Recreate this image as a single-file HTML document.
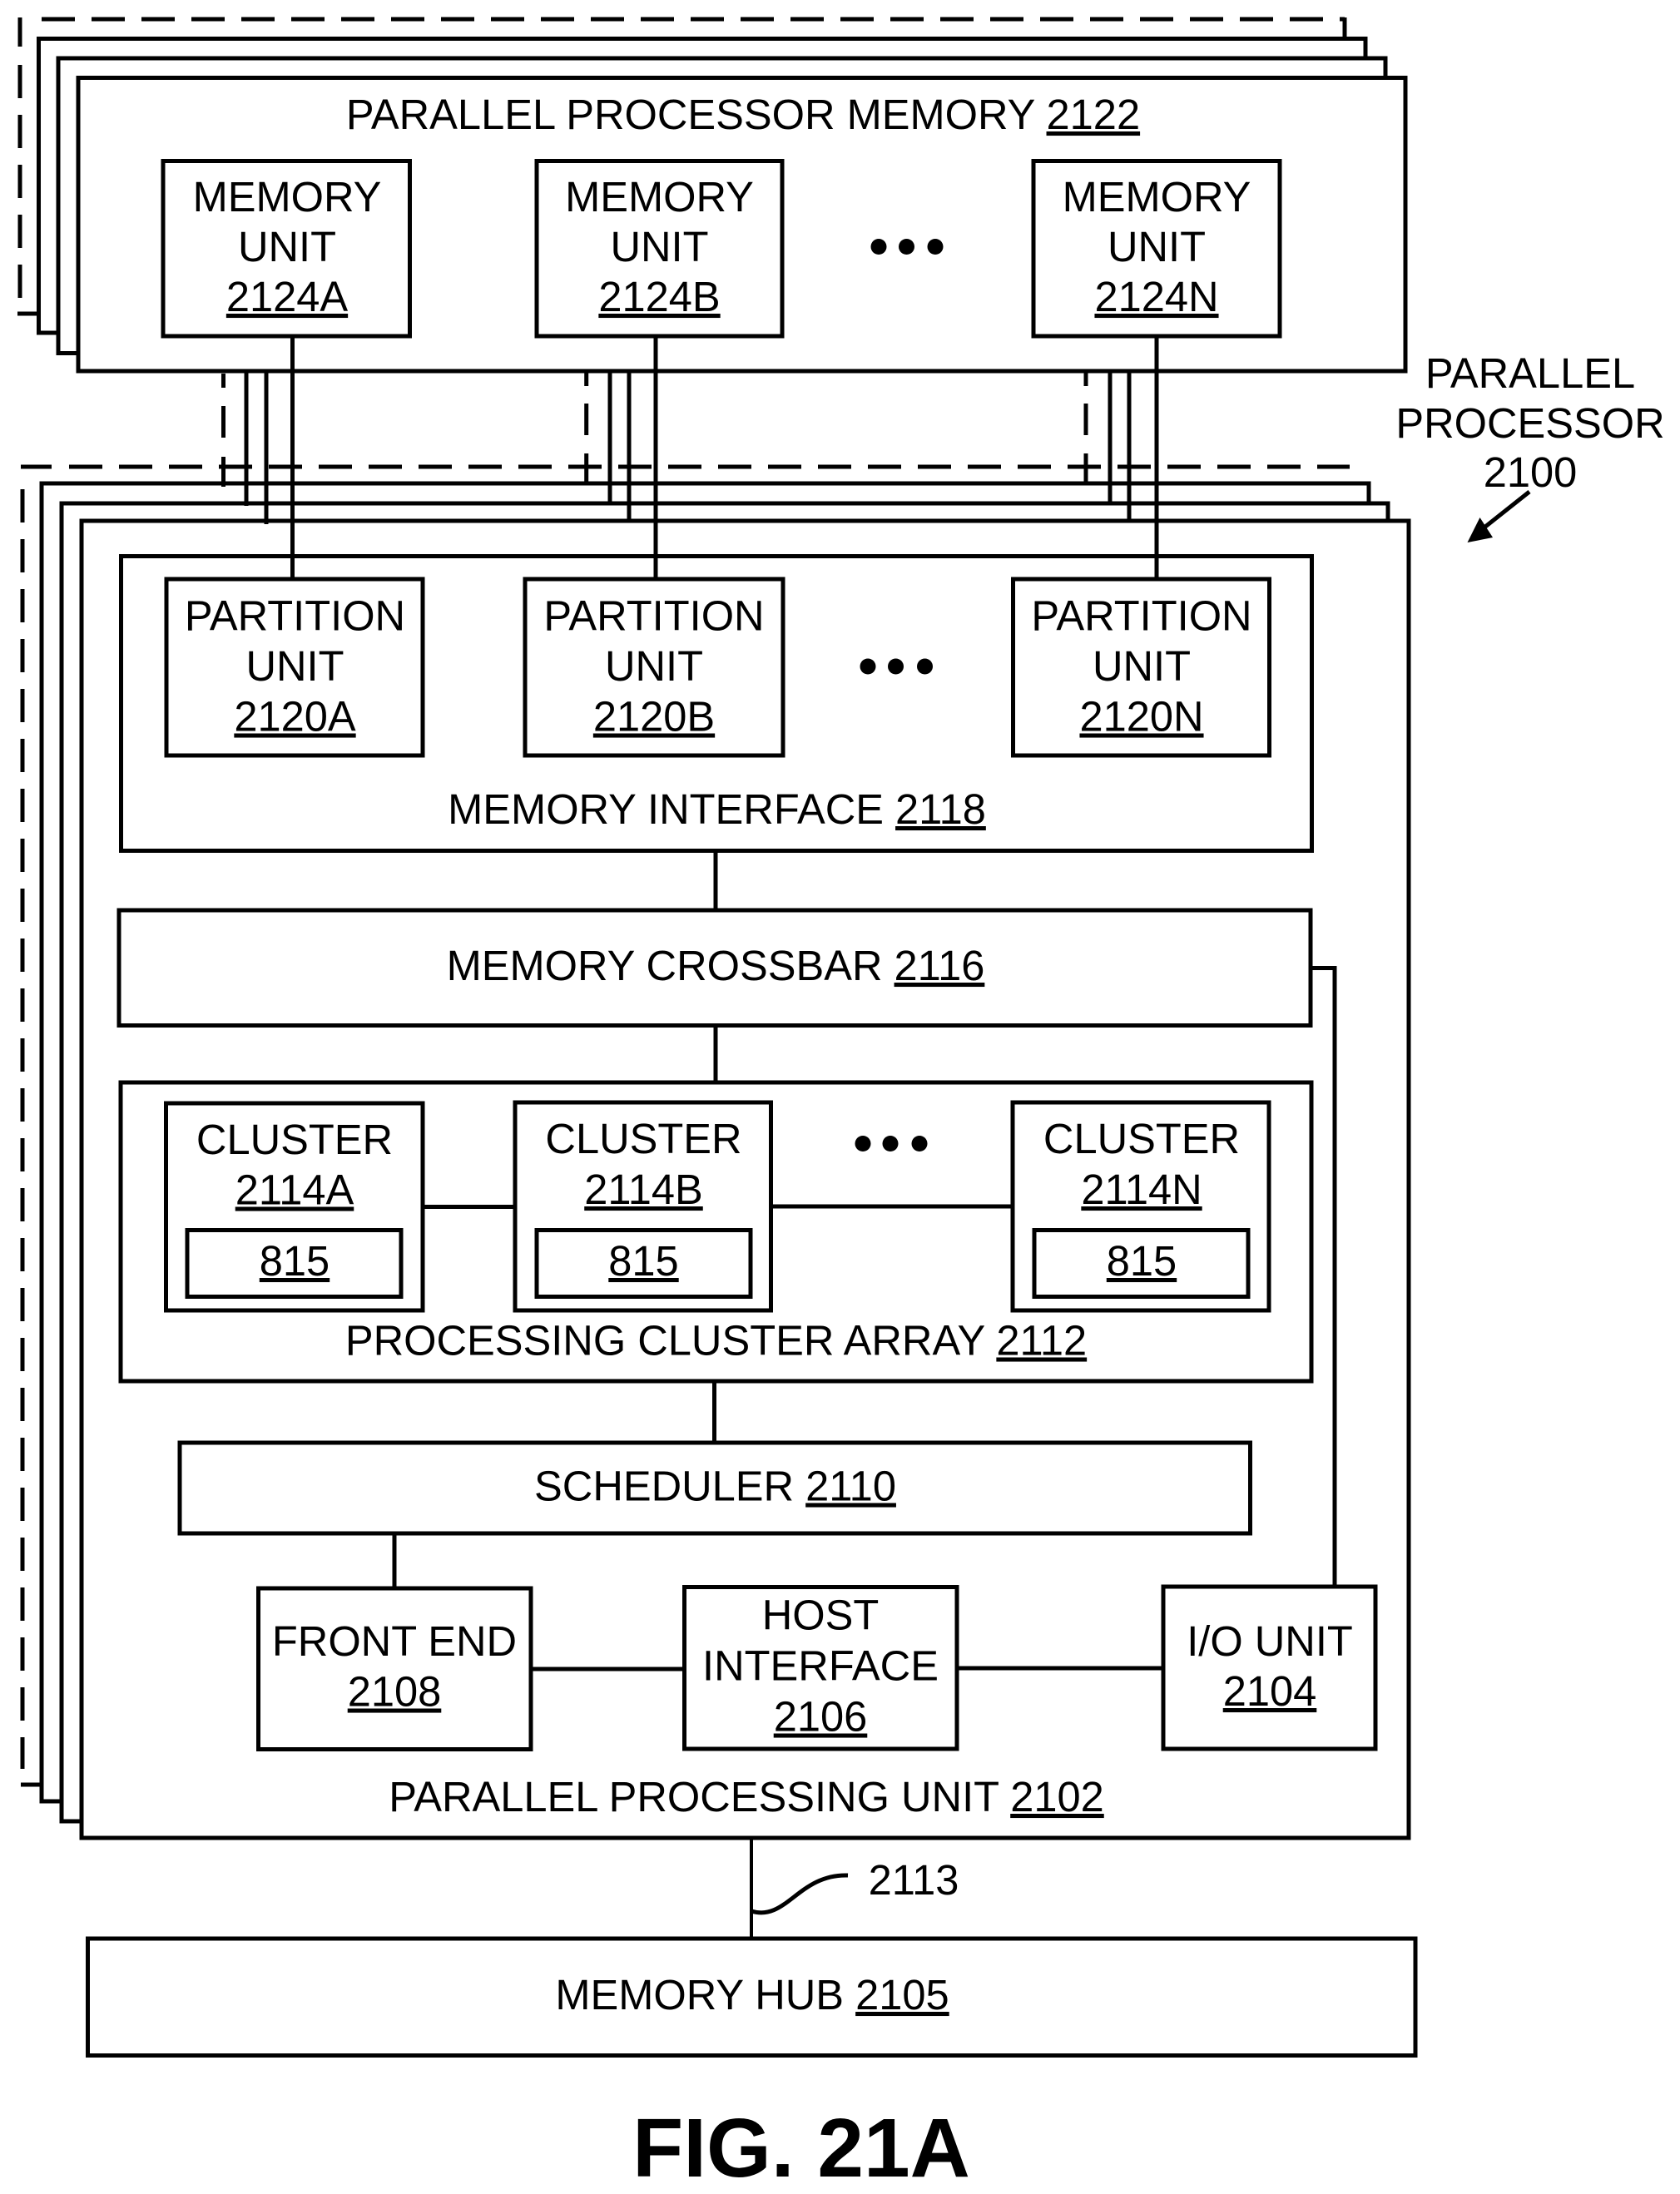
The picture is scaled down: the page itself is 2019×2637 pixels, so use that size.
<!DOCTYPE html>
<html>
<head>
<meta charset="utf-8">
<style>
html,body{margin:0;padding:0;background:#fff}
svg{display:block}
text{font-family:"Liberation Sans",Arial,sans-serif;font-size:50.6px;fill:#000;text-anchor:middle}
.u{text-decoration:underline}
rect{fill:#fff;stroke:#000;stroke-width:5}
line,path.l{stroke:#000;stroke-width:5;fill:none}
.d{stroke-dasharray:40 20}
</style>
</head>
<body>
<svg width="2019" height="2637" viewBox="0 0 2019 2637" xmlns="http://www.w3.org/2000/svg">
<rect x="0" y="0" width="2019" height="2637" style="stroke:none"/>

<!-- upper stack -->
<line x1="50" y1="23" x2="1616" y2="23" class="d"/>
<line x1="24" y1="21" x2="24" y2="56"/>
<line x1="24" y1="78" x2="24" y2="358" class="d"/>
<line x1="21" y1="377" x2="46" y2="377"/>
<line x1="1616" y1="21" x2="1616" y2="46"/>
<rect x="46.5" y="46.5" width="1594.5" height="353.5"/>
<rect x="70" y="70" width="1595" height="354.5"/>
<rect x="94" y="93.5" width="1595" height="352.5"/>

<!-- lower stack -->
<line x1="83" y1="561" x2="1622" y2="561" class="d"/>
<line x1="25" y1="561" x2="62" y2="561"/>
<line x1="27" y1="588" x2="27" y2="2126" class="d"/>
<line x1="25" y1="2145" x2="50" y2="2145"/>
<rect x="50" y="581" width="1595" height="1584"/>
<rect x="74" y="605" width="1594" height="1584"/>
<rect x="98" y="626" width="1595" height="1583"/>

<!-- inter-stack connectors -->
<line x1="268.5" y1="449" x2="268.5" y2="466"/>
<line x1="268.5" y1="488" x2="268.5" y2="526"/>
<line x1="268.5" y1="549" x2="268.5" y2="585"/>
<line x1="296" y1="446" x2="296" y2="608"/>
<line x1="320" y1="446" x2="320" y2="630"/>
<line x1="351.5" y1="404" x2="351.5" y2="696"/>

<line x1="704.7" y1="446" x2="704.7" y2="464"/>
<line x1="704.7" y1="485" x2="704.7" y2="523"/>
<line x1="704.7" y1="545" x2="704.7" y2="579"/>
<line x1="733" y1="446" x2="733" y2="605"/>
<line x1="756" y1="446" x2="756" y2="626"/>
<line x1="788" y1="404" x2="788" y2="696"/>

<line x1="1305" y1="446" x2="1305" y2="464"/>
<line x1="1305" y1="485" x2="1305" y2="523"/>
<line x1="1305" y1="545" x2="1305" y2="581"/>
<line x1="1334" y1="446" x2="1334" y2="605"/>
<line x1="1357" y1="446" x2="1357" y2="626"/>
<line x1="1390" y1="404" x2="1390" y2="696"/>

<!-- memory units -->
<rect x="196" y="193.5" width="296.5" height="210.5"/>
<rect x="645" y="193.5" width="295" height="210.5"/>
<rect x="1242" y="193.5" width="296" height="210.5"/>
<text x="893" y="155">PARALLEL PROCESSOR MEMORY <tspan class="u">2122</tspan></text>
<text x="345" y="254">MEMORY</text><text x="345" y="314">UNIT</text><text x="345" y="374" class="u">2124A</text>
<text x="792.5" y="254">MEMORY</text><text x="792.5" y="314">UNIT</text><text x="792.5" y="374" class="u">2124B</text>
<text x="1390" y="254">MEMORY</text><text x="1390" y="314">UNIT</text><text x="1390" y="374" class="u">2124N</text>
<circle cx="1056" cy="296.5" r="9.5"/><circle cx="1089.5" cy="296.5" r="9.5"/><circle cx="1124" cy="296.5" r="9.5"/>

<!-- parallel processor label -->
<text x="1839" y="466">PARALLEL</text>
<text x="1839" y="526">PROCESSOR</text>
<text x="1839" y="585">2100</text>
<line x1="1838" y1="591" x2="1775" y2="641" style="stroke-width:5"/>
<polygon points="1763.5,652 1778.5,622 1794,646" fill="#000"/>

<!-- memory interface -->
<rect x="145.5" y="668.5" width="1431" height="354"/>
<rect x="200" y="696" width="308" height="212"/>
<rect x="631" y="696" width="310" height="212"/>
<rect x="1217.5" y="696" width="308" height="212"/>
<line x1="351.5" y1="660" x2="351.5" y2="696"/>
<line x1="788" y1="660" x2="788" y2="696"/>
<line x1="1390" y1="660" x2="1390" y2="696"/>
<text x="354.5" y="757.5">PARTITION</text><text x="354.5" y="818">UNIT</text><text x="354.5" y="878.5" class="u">2120A</text>
<text x="786" y="757.5">PARTITION</text><text x="786" y="818">UNIT</text><text x="786" y="878.5" class="u">2120B</text>
<text x="1372" y="757.5">PARTITION</text><text x="1372" y="818">UNIT</text><text x="1372" y="878.5" class="u">2120N</text>
<circle cx="1043" cy="801" r="9.5"/><circle cx="1076.5" cy="801" r="9.5"/><circle cx="1111.5" cy="801" r="9.5"/>
<text x="861.5" y="990">MEMORY INTERFACE <tspan class="u">2118</tspan></text>

<line x1="860" y1="1022" x2="860" y2="1094"/>

<!-- crossbar -->
<rect x="143" y="1094" width="1432" height="138.5"/>
<text x="860" y="1178">MEMORY CROSSBAR <tspan class="u">2116</tspan></text>
<line x1="860" y1="1232" x2="860" y2="1301"/>
<path class="l" d="M1575 1163.5H1604V1907"/>

<!-- processing cluster array -->
<rect x="145" y="1301" width="1431" height="359"/>
<rect x="199.5" y="1326" width="308.5" height="249"/>
<rect x="619" y="1325" width="307.5" height="250"/>
<rect x="1217" y="1325" width="308" height="250"/>
<line x1="508" y1="1450.5" x2="619" y2="1450.5"/>
<line x1="926.5" y1="1450" x2="1217" y2="1450"/>
<rect x="225" y="1478.5" width="257" height="80"/>
<rect x="645" y="1478.5" width="257" height="80"/>
<rect x="1243" y="1478.5" width="257" height="80"/>
<text x="354" y="1387">CLUSTER</text><text x="354" y="1447.5" class="u">2114A</text><text x="354" y="1533" class="u">815</text>
<text x="773.5" y="1386">CLUSTER</text><text x="773.5" y="1447" class="u">2114B</text><text x="773.5" y="1533" class="u">815</text>
<text x="1372" y="1386">CLUSTER</text><text x="1372" y="1447" class="u">2114N</text><text x="1372" y="1533" class="u">815</text>
<circle cx="1037" cy="1374.5" r="9.5"/><circle cx="1070" cy="1374.5" r="9.5"/><circle cx="1105" cy="1374.5" r="9.5"/>
<text x="860.5" y="1628.5">PROCESSING CLUSTER ARRAY <tspan class="u">2112</tspan></text>

<line x1="858.5" y1="1660" x2="858.5" y2="1734"/>

<!-- scheduler -->
<rect x="216" y="1734" width="1286.5" height="109"/>
<text x="859.5" y="1803.5">SCHEDULER <tspan class="u">2110</tspan></text>
<line x1="474" y1="1843" x2="474" y2="1909"/>

<!-- bottom row -->
<rect x="310.5" y="1909" width="327.5" height="193.5"/>
<rect x="822.5" y="1907.5" width="327.5" height="194.5"/>
<rect x="1398" y="1907" width="255" height="195"/>
<line x1="638" y1="2006" x2="823" y2="2006"/>
<line x1="1150" y1="2005" x2="1398" y2="2005"/>
<text x="474" y="1990">FRONT END</text><text x="474" y="2050.5" class="u">2108</text>
<text x="986" y="1958.5">HOST</text><text x="986" y="2019.5">INTERFACE</text><text x="986" y="2080.5" class="u">2106</text>
<text x="1526" y="1990">I/O UNIT</text><text x="1526" y="2050" class="u">2104</text>
<text x="897" y="2177">PARALLEL PROCESSING UNIT <tspan class="u">2102</tspan></text>

<!-- hub -->
<line x1="903" y1="2209" x2="903" y2="2330" style="stroke-width:4"/>
<path class="l" d="M903 2297C945 2310 960 2252 1019 2254" style="stroke-width:5"/>
<text x="1098" y="2277">2113</text>
<rect x="105.5" y="2330" width="1595.5" height="140.5"/>
<text x="904" y="2415">MEMORY HUB <tspan class="u">2105</tspan></text>

<text x="963" y="2616" style="font-size:100px;font-weight:bold">FIG. 21A</text>
</svg>
</body>
</html>
